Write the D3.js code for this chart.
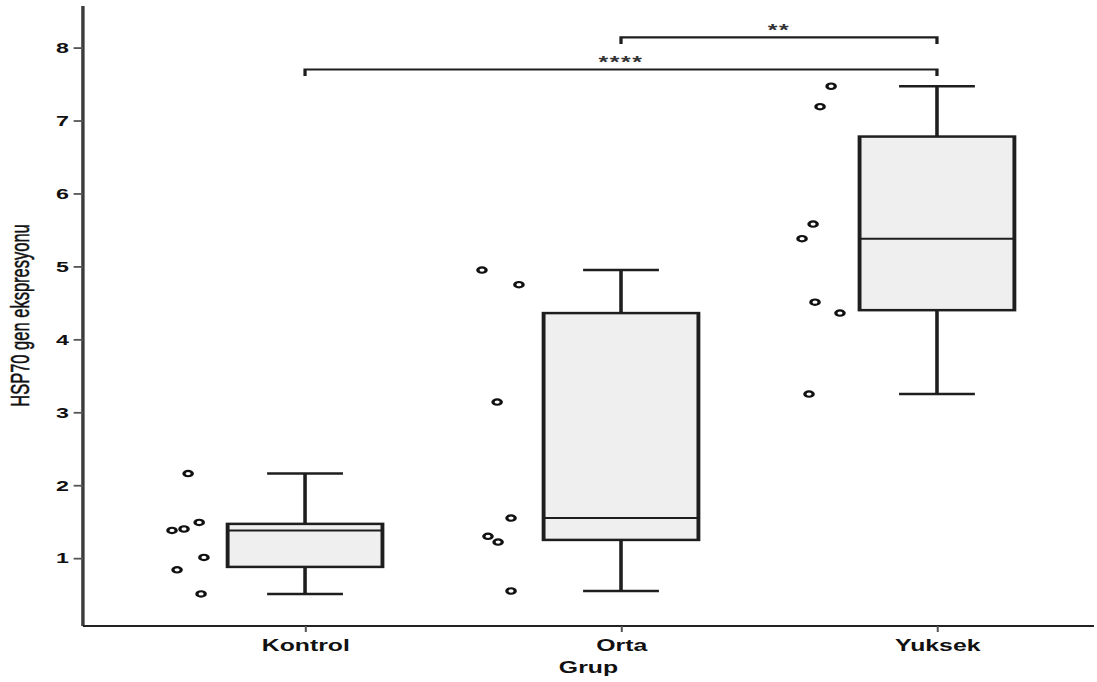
<!DOCTYPE html>
<html>
<head>
<meta charset="utf-8">
<script src="https://cdn.jsdelivr.net/npm/d3@7"></script>
<style>
  html, body { margin: 0; padding: 0; background: #fff; }
  svg { display: block; }
  text { font-family: "Liberation Sans", Arial, sans-serif; }
</style>
</head>
<body>
<div id="chart"></div>
<script>
// data
const groups = ['Kontrol', 'Orta', 'Yuksek'];
const kontrolValues = [2.16, 1.49, 1.40, 1.38, 1.01, 0.84, 0.51];
const ortaValues    = [4.95, 4.75, 3.14, 1.55, 1.30, 1.22, 0.55];
const yuksekValues  = [7.47, 7.19, 5.58, 5.38, 4.51, 4.36, 3.25];
// horizontal jitter of each point, as a share of the category step
const kontrolJitter = [-0.370, -0.335, -0.383, -0.421, -0.320, -0.405, -0.329];
const ortaJitter    = [-0.440, -0.323, -0.392, -0.348, -0.421, -0.389, -0.348];
const yuksekJitter  = [-0.335, -0.370, -0.392, -0.427, -0.386, -0.307, -0.405];
// box statistics: min, q1, median, q3, max
const boxMin    = [0.51, 0.55, 3.25];
const boxQ1     = [0.88, 1.25, 4.40];
const boxMedian = [1.38, 1.55, 5.38];
const boxQ3     = [1.47, 4.36, 6.78];
const boxMax    = [2.16, 4.95, 7.47];
const yTicks = [1, 2, 3, 4, 5, 6, 7, 8];
// significance brackets
const compFrom   = ['Kontrol', 'Orta'];
const compTo     = ['Yuksek', 'Yuksek'];
const compLevel  = [7.70, 8.14];
const compLabels = ['****', '**'];

const W = 1097, H = 682;
const sx = 1.55;            // the original picture is stretched horizontally
const axisX = 53.5, axisRight = 705.8, axisY = 626, topY = 6;

const svg = d3.select('#chart').append('svg')
    .attr('width', W)
    .attr('height', H);

svg.append('rect').attr('width', W).attr('height', H).attr('fill', '#fff');

const g = svg.append('g').attr('transform', `scale(${sx},1)`);

const x = d3.scalePoint()
    .domain(groups)
    .range([196.8, 604.5]);
const step = x(groups[1]) - x(groups[0]);

const y = d3.scaleLinear()
    .domain([0.07, 8.57])
    .range([axisY, topY]);

const boxW = step * 0.49;
const capW = step * 0.24;
const ink = '#1e1e1e';

// y axis
const yAxis = g.append('g')
    .attr('transform', `translate(${axisX},0)`)
    .call(d3.axisLeft(y).tickValues(yTicks).tickSize(6).tickSizeOuter(0).tickPadding(3));
yAxis.select('.domain')
    .attr('d', `M0,${axisY}V${topY}`)
    .attr('stroke', '#3c3c3c')
    .attr('stroke-width', 2.2);
yAxis.selectAll('.tick line').attr('stroke', '#555').attr('stroke-width', 1.8);
yAxis.selectAll('.tick text')
    .attr('fill', '#111')
    .attr('font-size', '15px')
    .attr('font-weight', 'bold')
    .attr('font-family', '"Liberation Sans", Arial, sans-serif');

// x axis
g.append('line')
    .attr('x1', axisX).attr('x2', axisRight)
    .attr('y1', axisY).attr('y2', axisY)
    .attr('stroke', '#222')
    .attr('stroke-width', 2);
const xAxis = g.append('g')
    .attr('transform', `translate(0,${axisY})`)
    .call(d3.axisBottom(x).tickSize(6).tickSizeOuter(0));
xAxis.select('.domain').remove();
xAxis.selectAll('.tick line').attr('stroke', '#555').attr('stroke-width', 1.3);
xAxis.selectAll('.tick text')
    .attr('y', 25).attr('dy', 0)
    .attr('fill', '#111')
    .attr('font-size', '16px')
    .attr('font-weight', 'bold')
    .attr('font-family', '"Liberation Sans", Arial, sans-serif');

// axis titles
g.append('text')
    .attr('x', (axisX + axisRight) / 2)
    .attr('y', 673)
    .attr('text-anchor', 'middle')
    .attr('font-size', '16px')
    .attr('font-weight', 'bold')
    .attr('fill', '#111')
    .text('Grup');

g.append('text')
    .attr('transform', `translate(18.5,315.5) rotate(-90)`)
    .attr('text-anchor', 'middle')
    .attr('font-size', '16.5px')
    .attr('fill', '#111')
    .attr('stroke', '#111')
    .attr('stroke-width', 0.35)
    .text('HSP70 gen ekspresyonu');

// boxes
const boxes = groups.map((name, i) => ({
    name, min: boxMin[i], q1: boxQ1[i], median: boxMedian[i], q3: boxQ3[i], max: boxMax[i]
}));

const box = g.selectAll('.box').data(boxes).enter().append('g').attr('class', 'box');

// whisker stems
box.append('line')
    .attr('x1', d => x(d.name)).attr('x2', d => x(d.name))
    .attr('y1', d => y(d.max)).attr('y2', d => y(d.q3))
    .attr('stroke', ink).attr('stroke-width', 2.3);
box.append('line')
    .attr('x1', d => x(d.name)).attr('x2', d => x(d.name))
    .attr('y1', d => y(d.q1)).attr('y2', d => y(d.min))
    .attr('stroke', ink).attr('stroke-width', 2.3);
// caps
box.append('line')
    .attr('x1', d => x(d.name) - capW / 2).attr('x2', d => x(d.name) + capW / 2)
    .attr('y1', d => y(d.max)).attr('y2', d => y(d.max))
    .attr('stroke', ink).attr('stroke-width', 2.5);
box.append('line')
    .attr('x1', d => x(d.name) - capW / 2).attr('x2', d => x(d.name) + capW / 2)
    .attr('y1', d => y(d.min)).attr('y2', d => y(d.min))
    .attr('stroke', ink).attr('stroke-width', 2.5);
// box body
box.append('rect')
    .attr('x', d => x(d.name) - boxW / 2)
    .attr('width', boxW)
    .attr('y', d => y(d.q3))
    .attr('height', d => y(d.q1) - y(d.q3))
    .attr('fill', '#efefef')
    .attr('stroke', ink)
    .attr('stroke-width', 2.5);
// median
box.append('line')
    .attr('x1', d => x(d.name) - boxW / 2).attr('x2', d => x(d.name) + boxW / 2)
    .attr('y1', d => y(d.median)).attr('y2', d => y(d.median))
    .attr('stroke', ink).attr('stroke-width', 2.1);

// points
const allValues = [kontrolValues, ortaValues, yuksekValues];
const allJitter = [kontrolJitter, ortaJitter, yuksekJitter];
const points = [];
groups.forEach((name, i) => {
    allValues[i].forEach((v, j) => points.push({ name, v, j: allJitter[i][j] }));
});

g.selectAll('.pt').data(points).enter().append('circle')
    .attr('class', 'pt')
    .attr('cx', d => x(d.name) + d.j * step)
    .attr('cy', d => y(d.v))
    .attr('r', 2.7)
    .attr('fill', '#fff')
    .attr('stroke', '#111')
    .attr('stroke-width', 2.1);

// significance brackets
const tip = 0.09;
compLabels.forEach((label, i) => {
    const x1 = x(compFrom[i]), x2 = x(compTo[i]);
    const yl = y(compLevel[i]), yt = y(compLevel[i] - tip);
    g.append('path')
        .attr('d', `M${x1},${yt}V${yl}H${x2}V${yt}`)
        .attr('fill', 'none')
        .attr('stroke', ink)
        .attr('stroke-width', 2.1);
    g.append('text')
        .attr('x', (x1 + x2) / 2)
        .attr('y', yl - 1)
        .attr('text-anchor', 'middle')
        .attr('font-size', '16px')
        .attr('font-weight', 'bold')
        .attr('letter-spacing', '1px')
        .attr('fill', '#333')
        .text(label);
});
</script>
</body>
</html>
